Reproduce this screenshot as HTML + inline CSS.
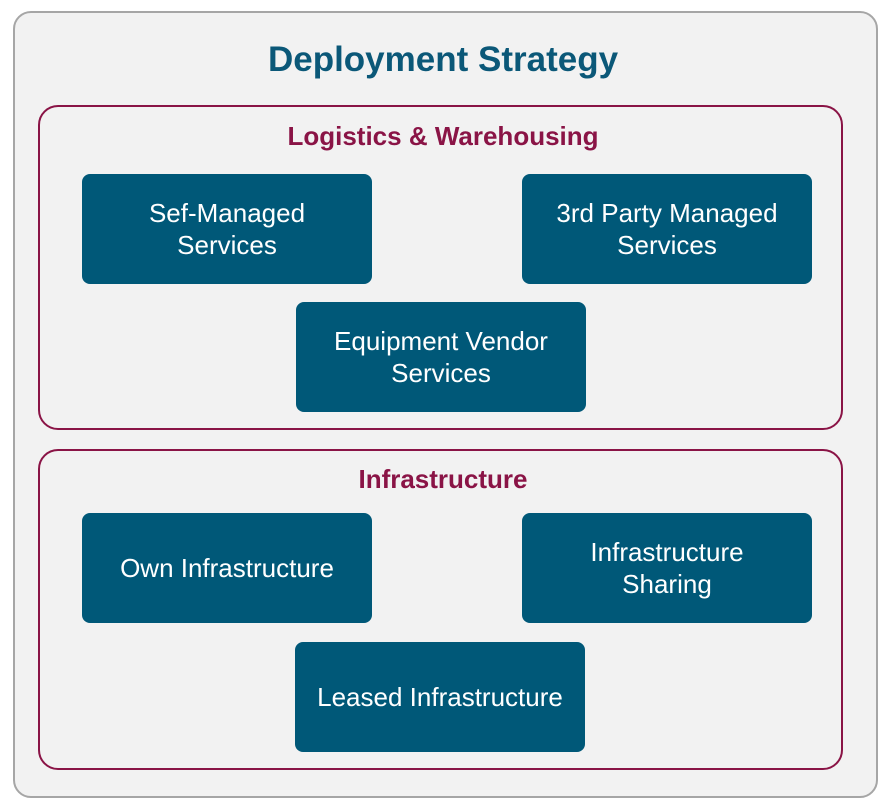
<!DOCTYPE html>
<html><head><meta charset="utf-8"><style>
body{margin:0;width:894px;height:809px;background:#fff;font-family:"Liberation Sans",sans-serif;position:relative;overflow:hidden}
.a{position:absolute;box-sizing:border-box}
.outer{left:13px;top:11px;width:865px;height:787px;border:2px solid #a6a6a6;border-radius:18px;background:#f2f2f2}
.grp{left:38px;width:805px;border:2px solid #8a1446;border-radius:20px}
.t{position:absolute;left:0;width:886px;text-align:center;font-weight:bold}
.b{position:absolute;width:290px;height:110px;background:#005878;border-radius:8px;color:#fff;font-size:26px;line-height:32px;display:flex;align-items:center;justify-content:center;text-align:center}
</style></head><body>
<div class="a outer"></div>
<div class="t" style="top:40px;font-size:35px;color:#0b5878">Deployment Strategy</div>
<div class="a grp" style="top:105px;height:325px"></div>
<div class="t" style="top:121px;font-size:26px;color:#8a1446">Logistics &amp; Warehousing</div>
<div class="b" style="left:82px;top:174px">Sef-Managed<br>Services</div>
<div class="b" style="left:522px;top:174px">3rd Party Managed<br>Services</div>
<div class="b" style="left:296px;top:302px">Equipment Vendor<br>Services</div>
<div class="a grp" style="top:449px;height:321px"></div>
<div class="t" style="top:464px;font-size:26px;color:#8a1446">Infrastructure</div>
<div class="b" style="left:82px;top:513px">Own Infrastructure</div>
<div class="b" style="left:522px;top:513px">Infrastructure<br>Sharing</div>
<div class="b" style="left:295px;top:642px">Leased Infrastructure</div>
</body></html>
